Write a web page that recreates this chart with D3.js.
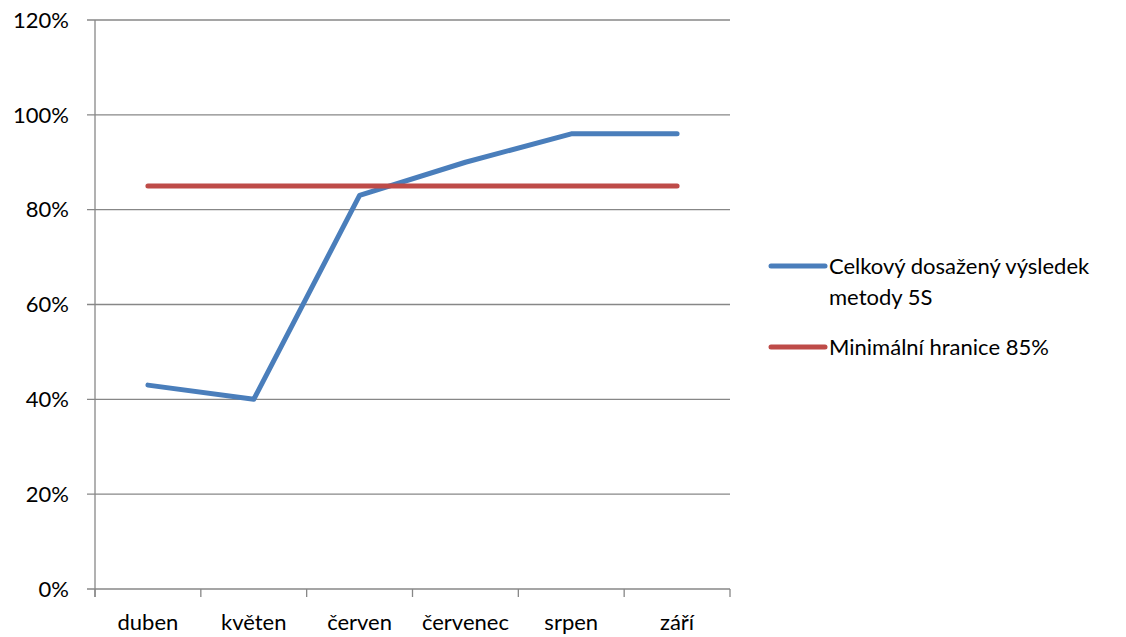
<!DOCTYPE html>
<html><head><meta charset="utf-8">
<script src="https://cdn.jsdelivr.net/npm/d3@7"></script>
<style>body{margin:0;background:#fff}svg{display:block}text{font-family:Lato,"Open Sans",sans-serif;fill:#000}</style>
</head><body>
<svg id="c" width="1126" height="637"></svg>
<script>
const categories = ["duben","květen","červen","červenec","srpen","září"];
const resultValues = [0.43,0.40,0.83,0.90,0.96,0.96];
const thresholdValues = [0.85,0.85,0.85,0.85,0.85,0.85];
const yTicks = [0,0.2,0.4,0.6,0.8,1.0,1.2];
const seriesNames = ["Celkový dosažený výsledek|metody 5S","Minimální hranice 85%"];
const colors = ["#4A7EBB","#BE4B48"];

const svg = d3.select("#c");
const L=95, R=730, T=20, B=589;
const x = d3.scaleBand().domain(categories).range([L,R]);
const y = d3.scaleLinear().domain([0,1.2]).range([B,T]);
const grid="#878787";
const fs=22;

svg.append("g").selectAll("line").data(yTicks).join("line")
  .attr("x1",L-8).attr("x2",R).attr("y1",d=>y(d)).attr("y2",d=>y(d))
  .attr("stroke",grid).attr("stroke-width",1.3);
svg.append("line").attr("x1",L).attr("x2",L).attr("y1",T).attr("y2",B+8).attr("stroke",grid).attr("stroke-width",1.3);
const xt = categories.map((c,i)=>L+i*x.bandwidth()).concat([R]);
svg.append("g").selectAll("line").data(xt).join("line")
  .attr("x1",d=>d).attr("x2",d=>d).attr("y1",B).attr("y2",B+8).attr("stroke",grid).attr("stroke-width",1.3);
svg.append("g").selectAll("text").data(yTicks).join("text")
  .attr("x",69).attr("y",d=>y(d)).attr("dy","0.35em").attr("text-anchor","end")
  .attr("font-size",fs).text(d=>Math.round(d*100)+"%");
svg.append("g").selectAll("text").data(categories).join("text")
  .attr("x",d=>x(d)+x.bandwidth()/2).attr("y",630).attr("text-anchor","middle")
  .attr("font-size",fs).text(d=>d);

const line = d3.line().x((d,i)=>x(categories[i])+x.bandwidth()/2).y(d=>y(d));
[resultValues,thresholdValues].forEach((vals,k)=>{
  svg.append("path").attr("d",line(vals)).attr("fill","none").attr("stroke",colors[k])
    .attr("stroke-width",5).attr("stroke-linecap","round").attr("stroke-linejoin","round");
});

const ly=[266,347];
seriesNames.forEach((n,k)=>{
  svg.append("line").attr("x1",771).attr("x2",825).attr("y1",ly[k]).attr("y2",ly[k])
    .attr("stroke",colors[k]).attr("stroke-width",5).attr("stroke-linecap","round");
  n.split("|").forEach((t,j)=>{
    svg.append("text").attr("x",829).attr("y",ly[k]+j*31).attr("dy","0.35em").attr("font-size",fs).text(t);
  });
});
</script>
</body></html>
